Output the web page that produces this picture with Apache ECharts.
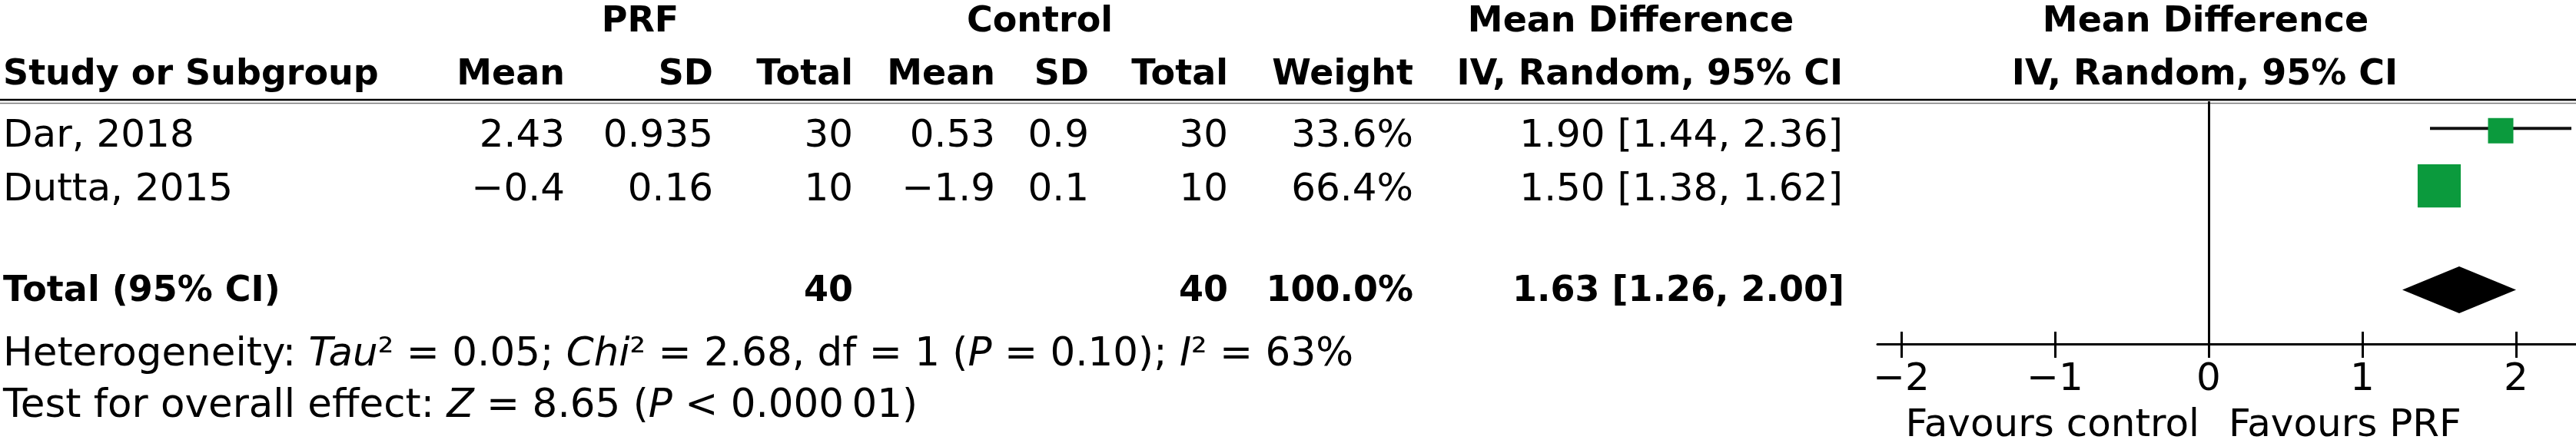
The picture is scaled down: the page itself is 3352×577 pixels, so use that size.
<!DOCTYPE html>
<html>
<head>
<meta charset="utf-8">
<script src="https://cdn.jsdelivr.net/npm/echarts@6/dist/echarts.min.js"></script>
<style>
  html, body { margin: 0; padding: 0; background: #fff; }
  #c { width: 3352px; height: 577px; }
</style>
</head>
<body>
<div id="c"></div>
<script>
// ---------------- data ----------------
const studies   = ['Dar, 2018', 'Dutta, 2015'];
const prfMean   = [2.43, -0.4];
const prfSD     = ['0.935', '0.16'];
const prfTotal  = [30, 10];
const ctlMean   = [0.53, -1.9];
const ctlSD     = ['0.9', '0.1'];
const ctlTotal  = [30, 10];
const weights   = [33.6, 66.4];
const md        = [1.90, 1.50];
const ciLow     = [1.44, 1.38];
const ciHigh    = [2.36, 1.62];
const totalPRF  = 40;
const totalCtl  = 40;
const totalWeight = 100.0;
const pooled    = [1.63, 1.26, 2.00];   // estimate, low, high
const tau2 = '0.05', chi2 = '2.68', dfHet = '1', pHet = '0.10', i2 = '63';
const zVal = '8.65', pOverall = '0.000\u200901';
const tickValues = [-2, -1, 0, 1, 2];
const favLeft = 'Favours control', favRight = 'Favours PRF';

// ---------------- layout / style ----------------
const FAM = '"DejaVu Sans"';
const REG = '50px ' + FAM;
const FOOT = '51.5px ' + FAM;
const BOLD = 'bold 46px ' + FAM;
const GREEN = '#0b9a3d';
const rowPos = [1, 2];       // y-axis positions of study rows
const totalPos = 3.88;       // y-axis position of the total row
const colR = {prfMean: 735, prfSD: 928, prfTotal: 1110, ctlMean: 1295, ctlSD: 1417,
              ctlTotal: 1598, weight: 1839, md: 2398};
const rowY = {h1: 29, h2: 98, rows: [178, 248], total: 380, het: 463, test: 530, fav: 555};

const fmt = v => String(v).replace('-', '\u2212');
const ci = (e, l, h) => e.toFixed(2) + ' [' + l.toFixed(2) + ', ' + h.toFixed(2) + ']';

function txt(text, x, y, align, font, rich) {
  const st = { text: text, font: font, fill: '#000', textAlign: align, textVerticalAlign: 'middle' };
  if (rich) st.rich = rich;
  return { type: 'text', x: x, y: y, style: st, silent: true };
}

const g = [];
// header row 1
g.push(txt('PRF', 833, rowY.h1, 'center', BOLD));
g.push(txt('Control', 1353, rowY.h1, 'center', BOLD));
g.push(txt('Mean Difference', 2122, rowY.h1, 'center', BOLD));
g.push(txt('Mean Difference', 2870, rowY.h1, 'center', BOLD));
// header row 2
g.push(txt('Study or Subgroup', 4, rowY.h2, 'left', BOLD));
g.push(txt('Mean', colR.prfMean, rowY.h2, 'right', BOLD));
g.push(txt('SD', colR.prfSD, rowY.h2, 'right', BOLD));
g.push(txt('Total', colR.prfTotal, rowY.h2, 'right', BOLD));
g.push(txt('Mean', colR.ctlMean, rowY.h2, 'right', BOLD));
g.push(txt('SD', colR.ctlSD, rowY.h2, 'right', BOLD));
g.push(txt('Total', colR.ctlTotal, rowY.h2, 'right', BOLD));
g.push(txt('Weight', colR.weight, rowY.h2, 'right', BOLD));
g.push(txt('IV, Random, 95% CI', colR.md, rowY.h2, 'right', BOLD));
g.push(txt('IV, Random, 95% CI', 2869, rowY.h2, 'center', BOLD));
// header rules
g.push({ type: 'line', shape: {x1: 0, y1: 130, x2: 3352, y2: 130}, style: {stroke: '#000', lineWidth: 2.5}, silent: true });
g.push({ type: 'line', shape: {x1: 0, y1: 134.5, x2: 3352, y2: 134.5}, style: {stroke: '#777', lineWidth: 1.5}, silent: true });
// study rows
studies.forEach((s, i) => {
  const y = rowY.rows[i];
  g.push(txt(s, 4, y, 'left', REG));
  g.push(txt(fmt(prfMean[i]), colR.prfMean, y, 'right', REG));
  g.push(txt(prfSD[i], colR.prfSD, y, 'right', REG));
  g.push(txt(String(prfTotal[i]), colR.prfTotal, y, 'right', REG));
  g.push(txt(fmt(ctlMean[i]), colR.ctlMean, y, 'right', REG));
  g.push(txt(ctlSD[i], colR.ctlSD, y, 'right', REG));
  g.push(txt(String(ctlTotal[i]), colR.ctlTotal, y, 'right', REG));
  g.push(txt(weights[i].toFixed(1) + '%', colR.weight, y, 'right', REG));
  g.push(txt(ci(md[i], ciLow[i], ciHigh[i]), colR.md, y, 'right', REG));
});
// total row
g.push(txt('Total (95% CI)', 4, rowY.total, 'left', BOLD));
g.push(txt(String(totalPRF), colR.prfTotal, rowY.total, 'right', BOLD));
g.push(txt(String(totalCtl), colR.ctlTotal, rowY.total, 'right', BOLD));
g.push(txt(totalWeight.toFixed(1) + '%', colR.weight, rowY.total, 'right', BOLD));
g.push(txt(ci(pooled[0], pooled[1], pooled[2]), colR.md + 2, rowY.total, 'right', BOLD));
// footers
const richStyles = {
  n: { font: FOOT, fill: '#000' },
  i: { font: 'italic 51.5px ' + FAM, fill: '#000' }
};
g.push(txt('{n|Heterogeneity: }{i|Tau}{n|\u00b2 = ' + tau2 + '; }{i|Chi}{n|\u00b2 = ' + chi2 +
  ', df = ' + dfHet + ' (}{i|P}{n| = ' + pHet + '); }{i|I}{n|\u00b2 = ' + i2 + '%}', 4, rowY.het, 'left', FOOT, richStyles));
g.push(txt('{n|Test for overall effect: }{i|Z}{n| = ' + zVal + ' (}{i|P}{n| < ' + pOverall + ')}',
  4, rowY.test, 'left', FOOT, richStyles));
// favours labels
g.push(txt(favLeft, 2862, rowY.fav, 'right', REG));
g.push(txt(favRight, 2900, rowY.fav, 'left', REG));

// ---------------- series ----------------
const ciData = studies.map((s, i) => [ciLow[i], ciHigh[i], rowPos[i]]);
const sqData = studies.map((s, i) => [md[i], rowPos[i], weights[i]]);
const diamondData = [[pooled[1], pooled[2], totalPos, pooled[0]]];

const option = {
  animation: false,
  backgroundColor: '#fff',
  grid: { left: 2443, top: 132, width: 909, height: 316, containLabel: false, outerBoundsMode: 'none' },
  xAxis: [{
    type: 'value', position: 'bottom', min: -2.155, max: 2.39,
    axisLine: { show: true, onZero: false, lineStyle: { color: '#000', width: 3 } },
    axisTick: { show: true, length: 18, customValues: tickValues, lineStyle: { color: '#000', width: 3 } },
    axisLabel: { show: true, customValues: tickValues, margin: 22, color: '#000',
      fontFamily: 'DejaVu Sans', fontSize: 50, formatter: v => fmt(v) },
    splitLine: { show: false }
  }, {
    type: 'value', position: 'bottom', min: -2.155, max: 2.39,
    axisLine: { show: false, onZero: false },
    axisTick: { show: true, inside: true, length: 16, customValues: tickValues, lineStyle: { color: '#000', width: 3 } },
    axisLabel: { show: false },
    splitLine: { show: false }
  }],
  yAxis: { type: 'value', inverse: true, min: 0.47, max: 4.86, show: false },
  series: [{
    type: 'custom', xAxisIndex: 0, yAxisIndex: 0, z: 2, silent: true,
    data: ciData,
    renderItem: function (params, api) {
      const a = api.coord([api.value(0), api.value(2)]);
      const b = api.coord([api.value(1), api.value(2)]);
      return { type: 'line', shape: { x1: a[0], y1: a[1] - 3, x2: b[0], y2: b[1] - 3 },
        style: { stroke: '#111', lineWidth: 4 } };
    },
    markLine: {
      silent: true, symbol: 'none', label: { show: false },
      lineStyle: { color: '#000', width: 3, type: 'solid' },
      data: [{ xAxis: 0 }]
    }
  }, {
    type: 'scatter', xAxisIndex: 0, yAxisIndex: 0, z: 3, silent: true,
    symbol: 'rect',
    symbolSize: function (v) { return 33 * Math.pow(v[2] / 33.6, 0.78); },
    itemStyle: { color: GREEN, opacity: 1 },
    data: sqData
  }, {
    type: 'custom', xAxisIndex: 0, yAxisIndex: 0, z: 3, silent: true,
    data: diamondData,
    renderItem: function (params, api) {
      const l = api.coord([api.value(0), api.value(2)]);
      const r = api.coord([api.value(1), api.value(2)]);
      const c = api.coord([api.value(3), api.value(2)]);
      const h = 30.5;
      return { type: 'polygon', shape: { points: [[l[0], l[1]], [c[0], c[1] - h], [r[0], r[1]], [c[0], c[1] + h]] },
        style: { fill: '#000' } };
    }
  }],
  graphic: { elements: g }
};

const chart = echarts.init(document.getElementById('c'), null, { renderer: 'canvas' });
chart.setOption(option);
</script>
</body>
</html>
